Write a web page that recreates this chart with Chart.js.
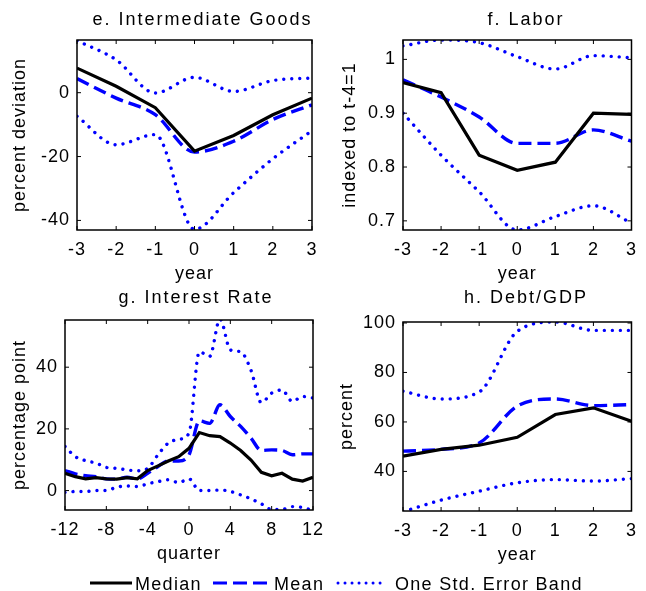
<!DOCTYPE html>
<html>
<head>
<meta charset="utf-8">
<script src="https://cdn.jsdelivr.net/npm/chart.js@4.4.0/dist/chart.umd.min.js"></script>
<style>
  body { margin: 0; background: #fff; width: 646px; height: 591px; overflow: hidden; position: relative;
         font-family: "Liberation Sans", Arial, sans-serif; color: #000; }
  canvas { position: absolute; left: 0; top: 0; }
  .title { position: absolute; font-size: 18px; line-height: 18px; letter-spacing: 2px; text-align: center; white-space: nowrap; }
  #legend { position: absolute; left: 0; top: 575px; width: 646px; height: 18px; font-size: 18px; line-height: 18px; letter-spacing: 1.3px; }
  #legend span, #legend svg { position: absolute; top: 0; }
</style>
</head>
<body>
<canvas id="goods" width="646" height="591"></canvas>
<canvas id="labor" width="646" height="591"></canvas>
<canvas id="rate" width="646" height="591"></canvas>
<canvas id="debt" width="646" height="591"></canvas>

<div class="title" style="left:85px;top:10px;width:235px">e. Intermediate Goods</div>
<div class="title" style="left:408px;top:10px;width:236px">f. Labor</div>
<div class="title" style="left:72px;top:288px;width:248px">g. Interest Rate</div>
<div class="title" style="left:408px;top:288px;width:236px">h. Debt/GDP</div>

<div id="legend">
  <svg style="left:90px" width="44" height="18"><line x1="0" y1="8" x2="42" y2="8" stroke="#000" stroke-width="3"/></svg>
  <span style="left:135px">Median</span>
  <svg style="left:213px" width="60" height="18"><line x1="0" y1="8" x2="57" y2="8" stroke="#0000ff" stroke-width="3.2" stroke-dasharray="14 6"/></svg>
  <span style="left:274px">Mean</span>
  <svg style="left:336px" width="54" height="18"><line x1="2" y1="8" x2="51" y2="8" stroke="#0000ff" stroke-width="3" stroke-linecap="round" stroke-dasharray="0.01 7"/></svg>
  <span style="left:395px">One Std. Error Band</span>
</div>

<script>
const years = [-3, -2, -1, 0, 1, 2, 3];
const quarters = [-12, -11, -10, -9, -8, -7, -6, -5, -4, -3, -2, -1, 0, 1, 2, 3, 4, 5, 6, 7, 8, 9, 10, 11, 12];

// e. Intermediate Goods
const goodsMedian = [7.7, 2.0, -4.7, -18.3, -13.4, -6.9, -1.7];
const goodsMean = [4.4, -1.7, -6.9, -18.6, -15.2, -8.4, -3.8];
const goodsUpper = [16.3, 10.3, -0.1, 4.8, 0.4, 3.8, 4.6];
const goodsLower = [-7.4, -16.3, -13.1, -42.8, -31.3, -20.7, -11.9];

// f. Labor
const laborMedian = [0.957, 0.938, 0.822, 0.794, 0.809, 0.900, 0.898];
const laborMean = [0.962, 0.930, 0.893, 0.844, 0.844, 0.869, 0.848];
const laborUpper = [1.025, 1.036, 1.031, 1.005, 0.982, 1.007, 1.003];
const laborLower = [0.900, 0.822, 0.754, 0.683, 0.708, 0.728, 0.696];

// g. Interest Rate
const rateMedian = [5.6, 4.5, 3.8, 4.2, 3.8, 3.7, 4.2, 3.8, 6.5, 8.0, 9.6, 11.0, 13.7, 18.8, 17.8, 17.5, 15.4, 13.0, 9.9, 5.9, 4.8, 5.6, 3.7, 3.1, 4.3];
const rateMean = [6.5, 5.4, 4.8, 4.5, 3.8, 3.7, 4.3, 3.8, 5.6, 7.8, 9.6, 9.6, 11.6, 22.6, 21.8, 27.8, 24.0, 20.8, 17.0, 13.0, 13.2, 13.0, 11.6, 11.9, 11.9];
const rateUpper = [14.3, 11.0, 9.7, 8.9, 7.5, 7.2, 6.7, 6.4, 7.2, 11.6, 15.4, 16.6, 18.6, 45.0, 43.5, 55.6, 45.6, 45.0, 39.0, 28.5, 31.6, 32.6, 28.9, 30.5, 30.0];
const rateLower = [-0.6, -0.3, -0.3, 0, 0, 1.1, 1.5, 1.3, 2.2, 2.9, 3.5, 2.6, 3.8, 0, 0, 0.2, -0.3, -1.4, -2.7, -4.3, -6.1, -6.1, -5.2, -5.5, -6.5];

// h. Debt/GDP
const debtMedian = [46.2, 48.9, 50.6, 53.8, 63.0, 65.7, 60.3];
const debtMean = [48.2, 48.9, 51.5, 66.4, 69.3, 66.6, 67.0];
const debtUpper = [72.4, 69.3, 72.1, 96.6, 100.4, 97.0, 97.0];
const debtLower = [23.7, 28.4, 32.0, 35.4, 36.7, 36.1, 37.1];

Chart.defaults.font.family = '"Liberation Sans", Arial, sans-serif';
Chart.defaults.font.size = 18;
Chart.defaults.color = '#000';

const BLUE = '#0000ff';

// matlab style box with inward ticks
const boxPlugin = {
  id: 'box',
  beforeLayout(chart) { chart.ctx.letterSpacing = '1px'; },
  beforeDraw(chart) { chart.ctx.letterSpacing = '1px'; },
  afterDatasetsDraw(chart) {
    const {ctx, chartArea: a, scales: {x, y}} = chart;
    ctx.save();
    ctx.strokeStyle = '#000';
    ctx.lineWidth = 1.5;
    ctx.strokeRect(a.left, a.top, a.right - a.left, a.bottom - a.top);
    ctx.lineWidth = 1;
    ctx.beginPath();
    x.ticks.forEach(t => {
      const px = x.getPixelForValue(t.value);
      ctx.moveTo(px, a.bottom); ctx.lineTo(px, a.bottom - 4);
      ctx.moveTo(px, a.top); ctx.lineTo(px, a.top + 4);
    });
    y.ticks.forEach(t => {
      const py = y.getPixelForValue(t.value);
      ctx.moveTo(a.left, py); ctx.lineTo(a.left + 4, py);
      ctx.moveTo(a.right, py); ctx.lineTo(a.right - 4, py);
    });
    ctx.stroke();
    ctx.restore();
  }
};

function toPoints(xs, ys) {
  return xs.map((x, i) => ({x: x, y: ys[i]}));
}

function makePanel(id, xs, median, mean, upper, lower, area, opts) {
  const yw = opts.yWidth, xh = 56;
  const band = {
    borderColor: BLUE, borderWidth: 3.4, borderDash: [0.01, 8], borderCapStyle: 'round',
    cubicInterpolationMode: 'monotone', pointRadius: 0
  };
  new Chart(id, {
    type: 'line',
    data: {
      datasets: [
        {label: 'Median', data: toPoints(xs, median), borderColor: '#000', borderWidth: 3.2, pointRadius: 0},
        {label: 'Mean', data: toPoints(xs, mean), borderColor: BLUE, borderWidth: 3.4, borderDash: [13, 6],
         cubicInterpolationMode: 'monotone', pointRadius: 0},
        Object.assign({label: 'One Std. Error Band', data: toPoints(xs, upper)}, band),
        Object.assign({label: 'lower', data: toPoints(xs, lower)}, band),
      ]
    },
    options: {
      responsive: false,
      animation: false,
      layout: {
        padding: {left: area.left - yw, top: area.top, right: 646 - area.right, bottom: 591 - area.bottom - xh}
      },
      plugins: {legend: {display: false}, tooltip: {enabled: false}},
      scales: {
        x: {
          type: 'linear',
          min: xs[0], max: xs[xs.length - 1],
          grid: {display: false, drawTicks: false},
          border: {display: false},
          ticks: {stepSize: opts.xStep, padding: 9, maxRotation: 0, includeBounds: false},
          title: {display: true, text: opts.xTitle, padding: {top: 0, bottom: 1}},
          afterFit(scale) { scale.height = xh; }
        },
        y: {
          min: opts.yMin, max: opts.yMax,
          grid: {display: false, drawTicks: false},
          border: {display: false},
          ticks: {stepSize: opts.yStep, padding: 7, includeBounds: false,
                  callback: v => String(Math.round(v * 10) / 10)},
          title: {display: true, text: opts.yTitle, padding: {top: opts.yTitlePad, bottom: 0}},
          afterFit(scale) { scale.width = yw; }
        }
      }
    },
    plugins: [boxPlugin]
  });
}

makePanel('goods', years, goodsMedian, goodsMean, goodsUpper, goodsLower,
  {left: 77, top: 40, right: 312, bottom: 230},
  {yWidth: 70, yTitlePad: 2, yTitle: 'percent deviation', xTitle: 'year', xStep: 1, yMin: -43, yMax: 16.5, yStep: 20});

makePanel('labor', years, laborMedian, laborMean, laborUpper, laborLower,
  {left: 403, top: 40, right: 639, bottom: 230},
  {yWidth: 70, yTitlePad: 6, yTitle: 'indexed to t-4=1', xTitle: 'year', xStep: 1, yMin: 0.683, yMax: 1.036, yStep: 0.1});

makePanel('rate', quarters, rateMedian, rateMean, rateUpper, rateLower,
  {left: 65, top: 320, right: 313, bottom: 510},
  {yWidth: 60, yTitlePad: 4, yTitle: 'percentage point', xTitle: 'quarter', xStep: 4, yMin: -6.3, yMax: 55.3, yStep: 20});

makePanel('debt', years, debtMedian, debtMean, debtUpper, debtLower,
  {left: 403, top: 322, right: 639, bottom: 511},
  {yWidth: 70, yTitlePad: 3, yTitle: 'percent', xTitle: 'year', xStep: 1, yMin: 24, yMax: 100.4, yStep: 20});
</script>
</body>
</html>
